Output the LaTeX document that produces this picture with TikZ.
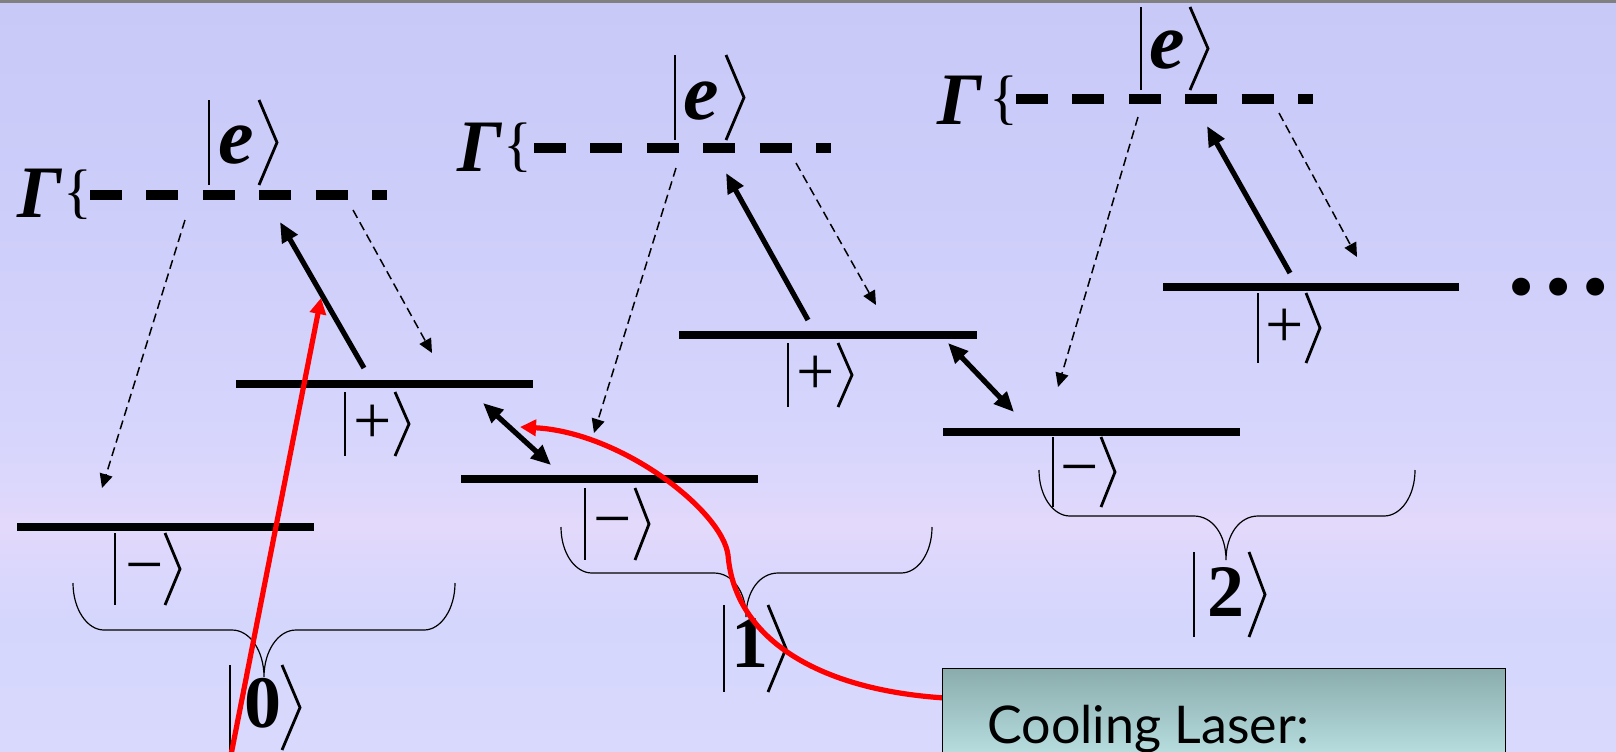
\documentclass[tikz,border=0pt]{standalone}
\usepackage{fontspec}
\setmainfont{Liberation Serif}
\newfontfamily\laserfont{Lato}
\usetikzlibrary{arrows.meta}
\definecolor{bgT}{HTML}{C9C9F8}
\definecolor{bgU}{HTML}{CDCDFA}
\definecolor{bgM}{HTML}{D4D4FC}
\definecolor{bgPb}{HTML}{DCD7FC}
\definecolor{bgP}{HTML}{E3D9FB}
\definecolor{bgB}{HTML}{D5D6FC}
\definecolor{bgC}{HTML}{D8D9FC}
\definecolor{boxtop}{HTML}{8AACAC}
\definecolor{boxbot}{HTML}{BFE6E8}
\definecolor{topbar}{HTML}{808080}
\definecolor{laserred}{HTML}{FF0000}
\pgfdeclareverticalshading{bgshade}{100bp}{color(0bp)=(bgC); color(25bp)=(bgC); color(33.7bp)=(bgB); color(37.5bp)=(bgPb); color(40bp)=(bgP); color(42.5bp)=(bgPb); color(48bp)=(bgM); color(62bp)=(bgU); color(75bp)=(bgT); color(100bp)=(bgT)}
\newcommand\ketlines[5]{%
  \draw[ketline] (#1,#2) -- (#1,#3);
  \draw[ketline] (#4,#2) -- (#4+#5,{(#2+#3)/2}) -- (#4,#3);}
\newcommand\bigbrace[6]{% xl xm xr yt yh ytip
  \draw[bracestyle] (#1,#4) .. controls (#1,#4+26) and (#1+14,#5) .. (#1+31,#5)
    -- (#2-32,#5) .. controls (#2-14,#5) and (#2,#6-26) .. (#2,#6)
    .. controls (#2,#6-26) and (#2+14,#5) .. (#2+32,#5)
    -- (#3-31,#5) .. controls (#3-14,#5) and (#3,#4+26) .. (#3,#4);}
\begin{document}
\begin{tikzpicture}[x=0.5pt,y=-0.5pt,
  level/.style={line width=4pt},
  gline/.style={line width=4.6pt, dash pattern=on 16pt off 12.2pt},
  decay/.style={line width=0.75pt, dash pattern=on 4.5pt off 2.5pt, -{Triangle[length=7pt,width=6.5pt]}},
  pump/.style={line width=2.6pt, -{Triangle[length=10pt,width=8.5pt]}},
  mix/.style={line width=2.6pt, {Triangle[length=10pt,width=8.5pt]}-{Triangle[length=10pt,width=8.5pt]}},
  ketline/.style={line width=1.4pt},
  bracestyle/.style={line width=0.6pt},
  redarrow/.style={laserred, line width=2.6pt, -{Triangle[length=8pt,width=8pt]}},
  ebig/.style={inner sep=0pt, font=\fontsize{40}{40}\selectfont\bfseries\itshape},
  digit/.style={inner sep=0pt, font=\fontsize{37}{37}\selectfont\bfseries},
  pm/.style={inner sep=0pt, font=\fontsize{34}{34}\selectfont},
  gam/.style={inner sep=0pt, font=\fontsize{37}{37}\selectfont\bfseries\itshape},
  lbrace/.style={inner sep=0pt, font=\fontsize{30}{30}\selectfont},
  laserbox/.style={draw=black, line width=0.7pt, top color=boxtop, bottom color=boxbot,
     minimum width=281.5pt, minimum height=50pt, inner sep=0pt, anchor=north west},
  lasertext/.style={inner sep=0pt, anchor=base west, font=\laserfont\fontsize{26}{26}\selectfont}
]
\useasboundingbox (0,0) rectangle (1616,751);
\clip (0,0) rectangle (1616,751);
% background
\shade[shading=bgshade] (0,0) rectangle (1616,751);
\fill[topbar] (0,0) rectangle (1616,3);

% ---------- group 0 ----------
\node[gam] (gam0) at (40,193) {Γ};
\node[lbrace] (br0) at (78,195) {\{};
\draw[gline] (90,195) -- (387,195);
\ketlines{209}{100}{185}{259}{18}
\node[ebig] (e0) at (236,145) {e};
\draw[level] (236,384) -- (533,384);
\draw[level] (17,527) -- (314,527);
\ketlines{345}{392}{456}{395}{14}
\node[pm] (p0) at (373,424) {+};
\ketlines{115}{533}{605}{165}{15}
\node[pm, anchor=base] (m0) at (144.5,587) {−};
\bigbrace{73}{264}{455}{583}{630}{677}
\ketlines{230}{665}{750}{282}{18}
\node[digit] (n0) at (262.5,703) {0};
\coordinate (a0s) at (185,220); \coordinate (a0t) at (102,488);
\coordinate (b0s) at (353,210); \coordinate (b0t) at (432,353);
\coordinate (c0s) at (364,368); \coordinate (c0t) at (280,222);
\draw[decay] (a0s) -- (a0t);
\draw[decay] (b0s) -- (b0t);
\draw[pump] (c0s) -- (c0t);

% ---------- group 1 ----------
\node[gam] (gam1) at (480,147) {Γ};
\node[lbrace] (br1) at (518,148) {\{};
\draw[gline] (534,148) -- (831,148);
\ketlines{675}{55}{140}{726}{18}
\node[ebig] (e1) at (701,101) {e};
\draw[level] (679,335) -- (977,335);
\draw[level] (461,479) -- (758,479);
\ketlines{788}{343}{407}{838}{14}
\node[pm] (p1) at (816,375) {+};
\ketlines{585}{488}{560}{635}{14}
\node[pm, anchor=base] (m1) at (613,541) {−};
\bigbrace{561}{746}{932}{527}{573}{617}
\ketlines{724}{605}{692}{768}{18}
\node[digit] (n1) at (750,643) {1};
\coordinate (a1s) at (676,168); \coordinate (a1t) at (594,433);
\coordinate (b1s) at (796,163); \coordinate (b1t) at (876,305);
\coordinate (c1s) at (808,320); \coordinate (c1t) at (726,173);
\draw[decay] (a1s) -- (a1t);
\draw[decay] (b1s) -- (b1t);
\draw[pump] (c1s) -- (c1t);

% ---------- group 2 ----------
\node[gam] (gam2) at (960,100) {Γ};
\node[lbrace] (br2) at (1004,101) {\{};
\draw[gline] (1016,99) -- (1313,99);
\ketlines{1141}{7}{90}{1190}{18}
\node[ebig] (e2) at (1167,50) {e};
\draw[level] (1163,287) -- (1459,287);
\draw[level] (943,432) -- (1240,432);
\ketlines{1258}{293}{363}{1306}{14}
\node[pm] (p2) at (1285,328) {+};
\ketlines{1053}{437}{507}{1101}{14}
\node[pm, anchor=base] (m2) at (1080,489) {−};
\bigbrace{1039}{1226}{1415}{470}{516}{560}
\ketlines{1194}{552}{637}{1249}{16}
\node[digit] (n2) at (1226,592) {2};
\coordinate (a2s) at (1138,117); \coordinate (a2t) at (1058,387);
\coordinate (b2s) at (1279,113); \coordinate (b2t) at (1357,257);
\coordinate (c2s) at (1290,273); \coordinate (c2t) at (1207,126);
\draw[decay] (a2s) -- (a2t);
\draw[decay] (b2s) -- (b2t);
\draw[pump] (c2s) -- (c2t);

\node[inner sep=0pt, font=\fontsize{55}{55}\selectfont\bfseries] (dots) at (1558,287) {…};

% mixing arrows
\coordinate (x01a) at (483,403); \coordinate (x01b) at (551,465);
\coordinate (x12a) at (948,343); \coordinate (x12b) at (1014,412);
\draw[mix] (x01a) -- (x01b);
\draw[mix] (x12a) -- (x12b);

% red laser lines
\coordinate (rs) at (230,760); \coordinate (rt) at (321,298);
\draw[redarrow] (rs) -- (rt);
\coordinate (rc0) at (945,698); \coordinate (rc1) at (520,427);
\draw[redarrow] (rc0) .. controls (820,690) and (735,640) .. (728,555)
   .. controls (722,510) and (620,432) .. (rc1);

% cooling laser box
\node[laserbox] (laser) at (942,668) {};
\node[lasertext] (lasertxt) at (987,743) {Cooling Laser:};
\end{tikzpicture}
\end{document}
